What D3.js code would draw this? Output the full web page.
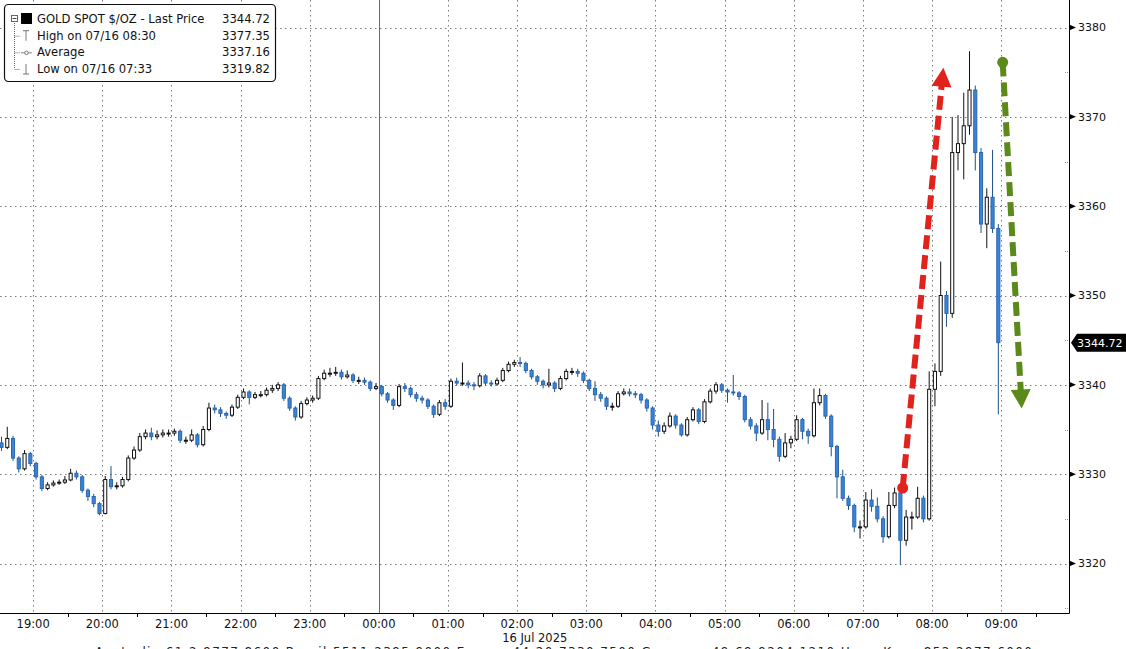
<!DOCTYPE html>
<html><head><meta charset="utf-8">
<script src="https://cdn.jsdelivr.net/npm/d3@7"></script>
<style>
html,body{margin:0;padding:0;background:#fff;overflow:hidden}
svg{display:block;font-family:"DejaVu Sans",Verdana,sans-serif}
</style></head><body>
<svg id="chart" width="1126" height="649"></svg>
<script>
// ---------- DATA ----------
const seriesName = "GOLD SPOT $/OZ - Last Price";
const candleStart = [2025, 6, 15, 18, 30]; // 15 Jul 2025 18:30, 5-minute candles
const candleMinutes = 5;
const firstOpen = 3333.5;
const closes = [3333.0,3334.0,3331.8,3330.6,3332.3,3331.2,3329.7,3328.4,3328.8,3329.0,
 3329.1,3329.35,3330.1,3329.7,3328.2,3327.5,3326.7,3325.6,3329.4,3328.6,
 3328.7,3329.4,3331.8,3332.7,3334.2,3334.6,3334.2,3334.4,3334.6,3334.6,
 3334.8,3333.8,3333.8,3334.4,3333.3,3335.0,3337.4,3337.2,3336.8,3336.6,
 3337.5,3338.6,3339.2,3338.6,3338.9,3338.9,3339.4,3339.6,3340.0,3338.5,
 3337.4,3336.4,3337.9,3338.3,3338.5,3340.7,3341.3,3341.3,3341.4,3340.9,
 3341.1,3340.5,3340.5,3340.3,3339.6,3339.8,3339.0,3338.3,3337.7,3339.8,
 3339.6,3338.9,3338.5,3338.3,3337.6,3336.7,3338.0,3337.6,3340.4,3340.2,
 3340.2,3340.0,3339.9,3341.0,3340.2,3340.1,3340.5,3341.6,3342.3,3342.5,
 3342.4,3341.6,3340.9,3340.4,3340.0,3340.2,3339.6,3340.7,3341.5,3341.5,
 3341.3,3340.5,3339.6,3338.9,3338.5,3337.6,3337.6,3339.0,3339.2,3339.0,
 3338.9,3338.3,3337.4,3335.5,3334.8,3335.4,3336.5,3335.5,3334.4,3336.1,
 3337.2,3335.9,3338.1,3339.3,3340.0,3339.4,3339.2,3339.1,3338.7,3336.1,
 3335.4,3334.6,3336.1,3335.0,3333.9,3332.0,3333.5,3333.9,3336.1,3334.8,
 3334.3,3338.0,3338.8,3336.5,3333.1,3329.7,3327.3,3326.5,3324.1,3324.1,
 3327.1,3326.4,3325.0,3323.0,3326.5,3327.9,3322.6,3325.2,3325.2,3327.3,
 3325.0,3339.5,3341.5,3350.0,3348.0,3366.0,3367.0,3369.0,3373.0,3366.0,
 3358.0,3361.0,3357.5,3344.72];
const highs = [3334.2,3335.3,3334.3,3332.0,3332.7,3332.5,3331.4,3329.9,3329.1,3329.3,
 3329.4,3329.8,3330.6,3330.4,3329.9,3328.4,3327.8,3326.9,3329.8,3330.9,
 3329.1,3329.7,3332.1,3333.1,3334.6,3335.0,3335.2,3334.9,3335.0,3335.0,
 3335.1,3335.0,3334.2,3335.0,3334.6,3335.4,3338.0,3337.8,3337.5,3337.0,
 3337.8,3338.9,3339.6,3339.4,3339.2,3339.3,3339.7,3340.0,3340.3,3340.2,
 3338.7,3337.6,3338.2,3338.6,3338.8,3341.0,3341.7,3341.9,3342.0,3341.7,
 3341.6,3341.3,3340.9,3340.8,3340.5,3340.2,3340.0,3339.2,3338.5,3340.1,
 3340.2,3339.8,3339.2,3338.8,3338.5,3337.8,3338.3,3338.4,3340.7,3340.8,
 3342.5,3340.5,3340.3,3341.3,3341.2,3340.5,3340.8,3341.9,3342.6,3342.8,
 3343.1,3342.6,3341.8,3341.1,3340.6,3341.8,3340.4,3341.0,3341.8,3341.9,
 3341.8,3341.5,3340.7,3340.4,3339.2,3338.7,3338.0,3339.3,3339.6,3339.6,
 3339.3,3339.1,3338.5,3337.6,3336.0,3335.8,3336.9,3336.7,3335.7,3336.4,
 3337.5,3337.4,3338.4,3339.6,3340.3,3340.2,3339.6,3341.1,3339.3,3338.9,
 3336.4,3335.7,3338.3,3338.0,3337.3,3334.2,3334.6,3334.3,3336.6,3336.3,
 3335.1,3339.6,3339.6,3339.0,3336.7,3333.3,3330.5,3327.6,3326.7,3324.8,
 3328.0,3328.3,3327.4,3325.3,3328.0,3328.5,3328.1,3326.0,3325.8,3328.6,
 3327.6,3341.5,3342.4,3353.8,3350.5,3370.0,3370.2,3372.7,3377.35,3373.5,
 3366.5,3362.0,3366.3,3358.0];
const lows = [3332.6,3332.8,3331.5,3330.2,3330.4,3330.9,3329.4,3328.1,3328.2,3328.6,
 3328.8,3328.9,3329.2,3329.4,3327.9,3327.0,3326.3,3325.4,3325.5,3328.3,
 3328.3,3328.5,3329.2,3331.6,3332.5,3333.9,3333.8,3333.9,3334.1,3334.2,
 3334.3,3333.5,3333.4,3333.6,3333.0,3333.1,3334.8,3336.8,3336.4,3336.2,
 3336.4,3337.3,3338.4,3337.8,3338.4,3338.6,3338.7,3339.1,3339.3,3338.2,
 3337.1,3336.0,3336.2,3337.7,3338.0,3338.3,3340.5,3340.9,3341.0,3340.6,
 3340.7,3340.2,3340.1,3340.0,3339.3,3339.4,3338.7,3338.0,3337.2,3337.5,
 3339.2,3338.6,3338.1,3337.9,3337.3,3336.3,3336.5,3337.2,3337.4,3339.9,
 3339.9,3339.6,3339.4,3339.7,3339.9,3339.8,3339.9,3340.3,3341.4,3342.0,
 3342.0,3341.3,3340.6,3340.0,3339.6,3339.7,3339.2,3339.4,3340.5,3341.1,
 3340.9,3340.2,3339.3,3338.2,3338.1,3337.2,3337.1,3337.4,3338.8,3338.7,
 3338.5,3337.9,3337.0,3335.0,3334.2,3334.5,3335.2,3335.1,3334.2,3334.2,
 3335.9,3335.6,3335.7,3337.9,3339.0,3339.1,3338.0,3338.8,3338.3,3335.8,
 3335.0,3333.7,3334.4,3333.8,3333.0,3331.4,3331.8,3332.9,3333.7,3333.9,
 3333.4,3334.1,3337.7,3336.2,3332.0,3327.3,3327.0,3326.0,3323.5,3322.8,
 3323.9,3325.8,3324.6,3322.3,3322.8,3326.2,3319.82,3322.0,3323.8,3325.0,
 3324.6,3324.8,3337.6,3341.0,3346.5,3347.5,3364.0,3363.0,3368.0,3364.0,
 3357.0,3355.3,3357.0,3336.7];
const yTickValues = [3320, 3330, 3340, 3350, 3360, 3370, 3380];
const yMinorValues = [3315, 3325, 3335, 3345, 3355, 3365, 3375];
const xTickLabels = ["19:00","20:00","21:00","22:00","23:00","00:00","01:00","02:00","03:00","04:00","05:00","06:00","07:00","08:00","09:00"];
const dateLabel = "16 Jul 2025";
const lastPrice = 3344.72;
const legendLabels = ["GOLD SPOT $/OZ - Last Price", "High on 07/16 08:30", "Average", "Low on 07/16 07:33"];
const legendValues = ["3344.72", "3377.35", "3337.16", "3319.82"];
const footerText = "Australia 61 2 9777 8600  Brazil 5511 2395 9000  Europe 44 20 7330 7500  Germany 49 69 9204 1210  Hong Kong 852 2977 6000";
// annotation arrows: [hour, minute on 16 Jul, price]
const upArrow = {from: [7, 34.5, 3328.45], to: [8, 9.8, 3375.5], color: "#e0231d"};
const downArrow = {from: [9, 1.3, 3376.1], to: [9, 17.8, 3337.35], color: "#5b8a1b"};

// ---------- SCALES ----------
const svg = d3.select("#chart");
const plotRight = 1069, plotBottom = 613;
const x = d3.scaleTime()
  .domain([new Date(2025,6,15,19,0), new Date(2025,6,16,9,0)])
  .range([33.2, 1001.2]);
const y = d3.scaleLinear().domain([3320, 3380]).range([563.5, 27.5]);

// ---------- GRID ----------
const grid = svg.append("g");
grid.selectAll("line.h").data(yTickValues).join("line")
  .attr("x1", 0).attr("x2", plotRight)
  .attr("y1", d => Math.round(y(d)) + 0.5).attr("y2", d => Math.round(y(d)) + 0.5)
  .attr("stroke", "#7a7a7a").attr("stroke-width", 1).attr("stroke-dasharray", "1.5,3.5");
const hourDates = xTickLabels.map((s, i) => new Date(2025, 6, 15, 19 + i, 0));
grid.selectAll("line.v").data(hourDates).join("line")
  .attr("x1", d => Math.round(x(d)) + 0.5).attr("x2", d => Math.round(x(d)) + 0.5)
  .attr("y1", 0).attr("y2", plotBottom)
  .attr("stroke", d => d.getHours() === 0 ? "#6a6a6a" : "#7a7a7a")
  .attr("stroke-width", 1)
  .attr("stroke-dasharray", d => d.getHours() === 0 ? null : "1.5,3.5");

// ---------- CANDLES ----------
const t0 = new Date(...candleStart);
const candles = closes.map((c, i) => {
  const t = new Date(t0.getTime() + i * candleMinutes * 60000);
  const mid = new Date(t.getTime() + candleMinutes * 30000);
  const o = i === 0 ? firstOpen : closes[i - 1];
  return {t, mid, o, c, h: highs[i], l: lows[i], up: c >= o};
});
const cg = svg.append("g");
const bodyW = 3.1;
cg.selectAll("line.wick").data(candles).join("line")
  .attr("x1", d => x(d.mid)).attr("x2", d => x(d.mid))
  .attr("y1", d => y(d.h)).attr("y2", d => y(d.l))
  .attr("stroke", d => d.up ? "#111" : "#1f4f8c").attr("stroke-width", 1);
cg.selectAll("rect.body").data(candles).join("rect")
  .attr("x", d => x(d.mid) - bodyW / 2)
  .attr("width", bodyW)
  .attr("y", d => y(Math.max(d.o, d.c)))
  .attr("height", d => Math.max(1, Math.abs(y(d.o) - y(d.c))))
  .attr("fill", d => d.up ? "#ffffff" : "#3a84d6")
  .attr("stroke", d => d.up ? "#111" : "#2a66b0")
  .attr("stroke-width", 1);

// ---------- AXES ----------
const ax = svg.append("g");
ax.append("line").attr("x1", 0).attr("x2", plotRight + 0.5).attr("y1", plotBottom + 0.5).attr("y2", plotBottom + 0.5)
  .attr("stroke", "#000").attr("stroke-width", 1);
ax.append("line").attr("x1", plotRight + 0.5).attr("x2", plotRight + 0.5).attr("y1", 0).attr("y2", plotBottom + 0.5)
  .attr("stroke", "#000").attr("stroke-width", 1);
ax.selectAll("path.yt").data(yTickValues).join("path")
  .attr("d", d => { const yy = y(d); return `M${plotRight},${yy - 3}L${plotRight + 7},${yy}L${plotRight},${yy + 3}Z`; })
  .attr("fill", "#000");
ax.selectAll("text.yl").data(yTickValues).join("text")
  .attr("x", plotRight + 9).attr("y", d => y(d)).attr("dy", "0.36em")
  .attr("font-size", 11).attr("fill", "#111").text(d => d);
ax.selectAll("line.ym").data(yMinorValues).join("line")
  .attr("x1", plotRight - 4).attr("x2", plotRight)
  .attr("y1", d => Math.round(y(d)) + 0.5).attr("y2", d => Math.round(y(d)) + 0.5)
  .attr("stroke", "#999").attr("stroke-width", 1).attr("stroke-dasharray", "1,1");
ax.selectAll("text.xl").data(hourDates).join("text")
  .attr("x", d => x(d)).attr("y", 628).attr("text-anchor", "middle")
  .attr("font-size", 11.5).attr("fill", "#111")
  .text((d, i) => xTickLabels[i]);
const halfHours = hourDates.map(d => new Date(d.getTime() + 30 * 60000));
ax.selectAll("line.xm").data(halfHours).join("line")
  .attr("x1", d => Math.round(x(d)) + 0.5).attr("x2", d => Math.round(x(d)) + 0.5)
  .attr("y1", plotBottom).attr("y2", plotBottom + 4)
  .attr("stroke", "#000").attr("stroke-width", 1);
ax.append("text").attr("x", x(new Date(2025,6,16,2,0)) - 15).attr("y", 642)
  .attr("font-size", 11.5).attr("fill", "#111").text(dateLabel);
ax.append("text").attr("x", 95).attr("y", 656).attr("font-size", 12).attr("fill", "#222")
  .attr("textLength", 937).attr("lengthAdjust", "spacing").text(footerText);

const ly = y(lastPrice);
ax.append("path")
  .attr("d", `M${plotRight + 2},${ly}L${plotRight + 8},${ly - 9}L1126,${ly - 9}L1126,${ly + 9}L${plotRight + 8},${ly + 9}Z`)
  .attr("fill", "#000");
ax.append("text").attr("x", plotRight + 8).attr("y", ly).attr("dy", "0.36em")
  .attr("font-size", 11).attr("fill", "#fff").text(lastPrice.toFixed(2));

// ---------- ANNOTATION ARROWS ----------
function drawArrow(a) {
  const p0 = [x(new Date(2025,6,16,a.from[0],0,a.from[1]*60)), y(a.from[2])];
  const p1 = [x(new Date(2025,6,16,a.to[0],0,a.to[1]*60)), y(a.to[2])];
  const dx = p1[0] - p0[0], dy = p1[1] - p0[1];
  const len = Math.hypot(dx, dy), ux = dx / len, uy = dy / len;
  const headL = 19, headW = 10;
  const base = [p1[0] - ux * headL, p1[1] - uy * headL];
  const g = svg.append("g");
  g.append("line").attr("x1", p0[0]).attr("y1", p0[1]).attr("x2", base[0] + ux * 2).attr("y2", base[1] + uy * 2)
    .attr("stroke", a.color).attr("stroke-width", 6).attr("stroke-dasharray", "14,6");
  g.append("circle").attr("cx", p0[0]).attr("cy", p0[1]).attr("r", 5.5).attr("fill", a.color);
  g.append("path").attr("d",
    `M${p1[0]},${p1[1]}L${base[0] - uy * headW},${base[1] + ux * headW}L${base[0] + uy * headW},${base[1] - ux * headW}Z`)
    .attr("fill", a.color);
}
drawArrow(upArrow);
drawArrow(downArrow);

// ---------- LEGEND ----------
const lg = svg.append("g");
lg.append("rect").attr("x", 4.5).attr("y", 4.5).attr("width", 271).attr("height", 77).attr("rx", 4)
  .attr("fill", "#fff").attr("stroke", "#111").attr("stroke-width", 1.2);
const rowY = [19, 35.7, 52.3, 69];
lg.append("line").attr("x1", 14.5).attr("x2", 14.5).attr("y1", 23).attr("y2", rowY[3])
  .attr("stroke", "#666").attr("stroke-dasharray", "1,1");
[1, 2, 3].forEach(k => lg.append("line").attr("x1", 14.5).attr("x2", 20).attr("y1", rowY[k] + 0.5).attr("y2", rowY[k] + 0.5)
  .attr("stroke", "#666").attr("stroke-dasharray", "1,1"));
lg.append("rect").attr("x", 11.5).attr("y", 15.5).attr("width", 6).attr("height", 6).attr("fill", "#fff").attr("stroke", "#666");
lg.append("line").attr("x1", 12.5).attr("x2", 16.5).attr("y1", 18.5).attr("y2", 18.5).attr("stroke", "#444");
lg.append("rect").attr("x", 21).attr("y", 13).attr("width", 11).attr("height", 11).attr("fill", "#000");
lg.append("path").attr("d", `M23,${rowY[1] - 5}H29M26,${rowY[1] - 5}V${rowY[1] + 5}`).attr("stroke", "#777").attr("fill", "none");
lg.append("line").attr("x1", 21).attr("x2", 32).attr("y1", rowY[2] + 0.5).attr("y2", rowY[2] + 0.5).attr("stroke", "#888");
lg.append("circle").attr("cx", 26.5).attr("cy", rowY[2] + 0.5).attr("r", 1.8).attr("fill", "#fff").attr("stroke", "#777");
lg.append("path").attr("d", `M26,${rowY[3] - 5}V${rowY[3] + 5}M23,${rowY[3] + 5}H29`).attr("stroke", "#777").attr("fill", "none");
lg.selectAll("text.ll").data(legendLabels).join("text")
  .attr("x", 37).attr("y", (d, i) => rowY[i]).attr("dy", "0.36em")
  .attr("font-size", 11.6).attr("fill", "#111").text(d => d);
lg.selectAll("text.lv").data(legendValues).join("text")
  .attr("x", 270).attr("y", (d, i) => rowY[i]).attr("dy", "0.36em").attr("text-anchor", "end")
  .attr("font-size", 11.6).attr("fill", "#111").text(d => d);
</script>
</body></html>
